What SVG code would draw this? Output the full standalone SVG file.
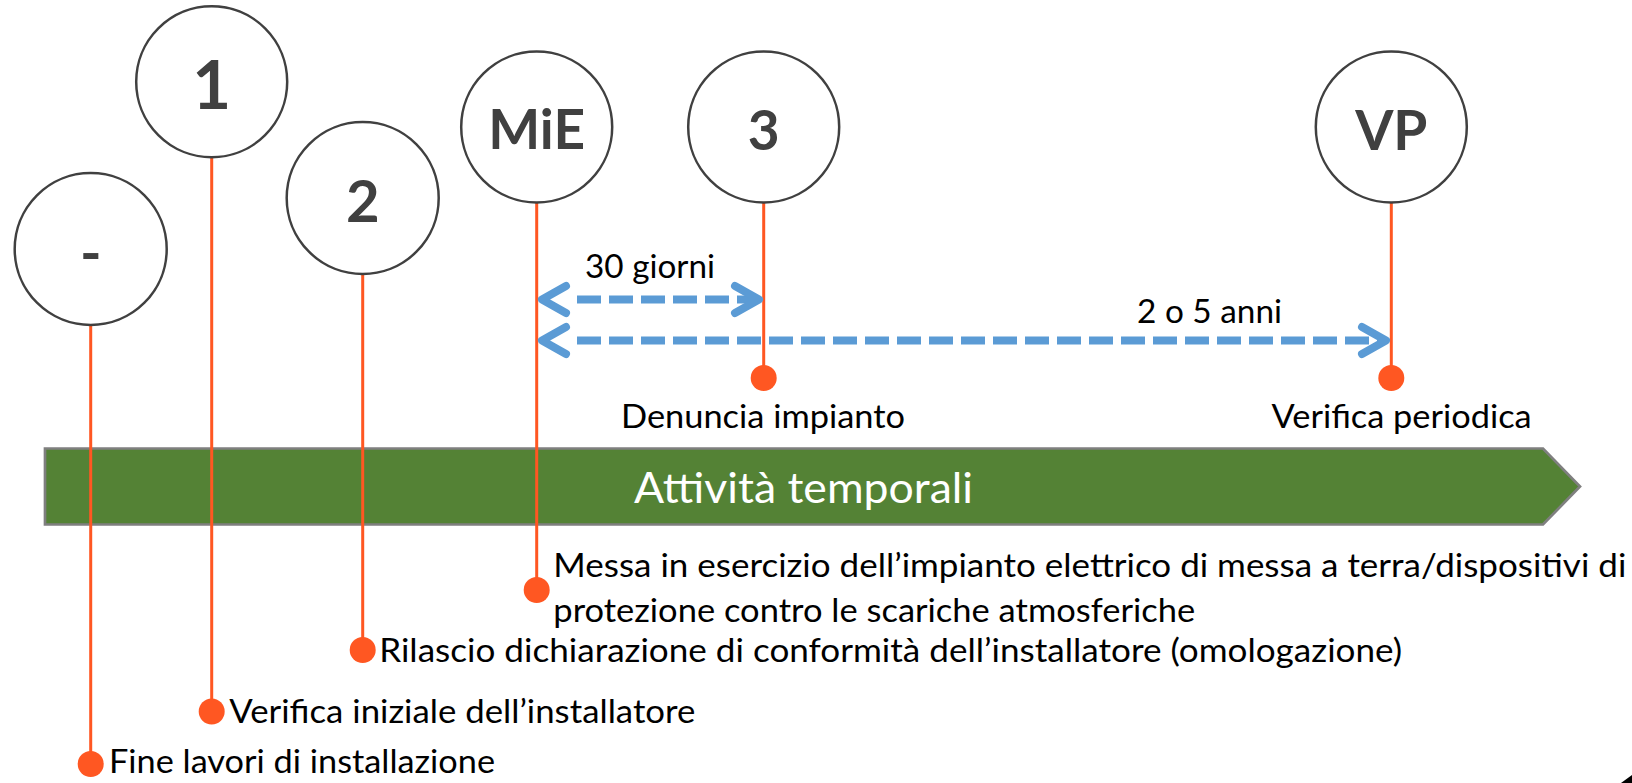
<svg xmlns="http://www.w3.org/2000/svg" width="1632" height="783" viewBox="0 0 1632 783">
<style>
.circ{fill:#fff;stroke:#404040;stroke-width:2.5}
.lbl{font-family:Lato,"Open Sans",sans-serif;font-weight:bold;fill:#404040;text-anchor:middle}
.stem{stroke:#FF5722;stroke-width:3;fill:none}
.dot{fill:#FF5722}
.txt{font-family:Lato,"Open Sans",sans-serif;font-size:33px;fill:#000}
.shaft{stroke:#5B9BD5;stroke-width:8;fill:none;stroke-dasharray:24 8}
.head{stroke:#5B9BD5;stroke-width:8;fill:none;stroke-linecap:round;stroke-linejoin:round}
</style>
<rect width="1632" height="783" fill="#fff"/>
<g id="timeline">
<polygon points="45,448.5 1543,448.5 1580,486.5 1543,524.5 45,524.5" fill="#548235" stroke="#7F7F7F" stroke-width="2.7"/>
<text x="634" y="503" font-family="Lato,'Open Sans',sans-serif" font-size="42" fill="#fff" textLength="339" lengthAdjust="spacingAndGlyphs">Attività temporali</text>
</g>
<g id="connectors">
<line class="stem" x1="90.7" y1="325" x2="90.7" y2="764"/>
<line class="stem" x1="211.7" y1="157" x2="211.7" y2="711.5"/>
<line class="stem" x1="362.7" y1="274" x2="362.7" y2="650"/>
<line class="stem" x1="536.7" y1="202" x2="536.7" y2="590"/>
<line class="stem" x1="763.7" y1="202" x2="763.7" y2="378"/>
<line class="stem" x1="1391.3" y1="202" x2="1391.3" y2="378"/>
<line class="shaft" x1="577" y1="299.5" x2="757" y2="299.5"/>
<polyline class="head" points="566,286 542,299.5 566,313"/>
<polyline class="head" points="735,286 759,299.5 735,313"/>
<line class="shaft" x1="577" y1="340.5" x2="1385" y2="340.5"/>
<polyline class="head" points="566,327 542,340.5 566,354"/>
<polyline class="head" points="1362,327 1386,340.5 1362,354"/>
<text class="txt" x="585" y="278" textLength="130" lengthAdjust="spacingAndGlyphs">30 giorni</text>
<text class="txt" x="1137" y="323" textLength="145" lengthAdjust="spacingAndGlyphs">2 o 5 anni</text>
</g>
<g id="node-fine">
<circle class="circ" cx="90.7" cy="249" r="76"/>
<text class="lbl" x="90.7" y="273" font-size="58">-</text>
<circle class="dot" cx="90.7" cy="764" r="13"/>
<text class="txt" x="109" y="773" textLength="386" lengthAdjust="spacingAndGlyphs">Fine lavori di installazione</text>
</g>
<g id="node-1">
<circle class="circ" cx="211.7" cy="81.7" r="75.5"/>
<text class="lbl" x="211.7" y="109.3" font-size="67">1</text>
<circle class="dot" cx="211.7" cy="711.5" r="13"/>
<text class="txt" x="229.3" y="723.3" textLength="466" lengthAdjust="spacingAndGlyphs">Verifica iniziale dell’installatore</text>
</g>
<g id="node-2">
<circle class="circ" cx="362.7" cy="198" r="76"/>
<text class="lbl" x="362.7" y="221.7" font-size="58">2</text>
<circle class="dot" cx="362.7" cy="650" r="13"/>
<text class="txt" x="379.2" y="662" textLength="1023" lengthAdjust="spacingAndGlyphs">Rilascio dichiarazione di conformità dell’installatore (omologazione)</text>
</g>
<g id="node-mie">
<circle class="circ" cx="536.7" cy="127" r="75.5"/>
<text class="lbl" x="536.7" y="149" font-size="55">MiE</text>
<circle class="dot" cx="536.7" cy="590" r="13"/>
<text class="txt" x="553.3" y="577.3" textLength="1073" lengthAdjust="spacingAndGlyphs">Messa in esercizio dell’impianto elettrico di messa a terra/dispositivi di</text>
<text class="txt" x="553.3" y="621.5" textLength="642" lengthAdjust="spacingAndGlyphs">protezione contro le scariche atmosferiche</text>
</g>
<g id="node-3">
<circle class="circ" cx="763.7" cy="127" r="75.5"/>
<text class="lbl" x="763.7" y="150" font-size="55">3</text>
<circle class="dot" cx="763.7" cy="378" r="13"/>
<text class="txt" x="621" y="428" textLength="284" lengthAdjust="spacingAndGlyphs">Denuncia impianto</text>
</g>
<g id="node-vp">
<circle class="circ" cx="1391.3" cy="127" r="75.5"/>
<text class="lbl" x="1391.3" y="150" font-size="55">VP</text>
<circle class="dot" cx="1391.3" cy="378" r="13"/>
<text class="txt" x="1271.6" y="428" textLength="260" lengthAdjust="spacingAndGlyphs">Verifica periodica</text>
</g>
<polygon points="1621,783 1632,775 1632,783" fill="#000"/>
</svg>
